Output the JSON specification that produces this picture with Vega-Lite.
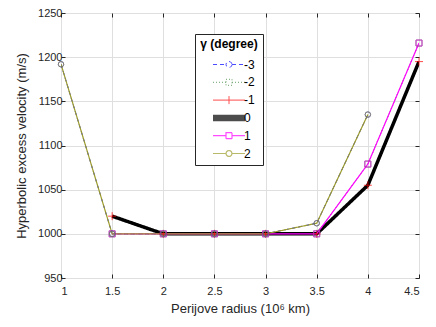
{
  "$schema": "https://vega.github.io/schema/vega-lite/v6.json",
  "width": 358,
  "height": 265,
  "autosize": {"type": "none"},
  "padding": {"left": 61, "top": 13, "right": 17, "bottom": 49},
  "background": "white",
  "config": {
    "font": "Liberation Sans",
    "view": {"stroke": "#262626", "strokeWidth": 1},
    "axis": {
      "labelFont": "Liberation Sans",
      "titleFont": "Liberation Sans",
      "labelColor": "#262626",
      "titleColor": "#262626",
      "labelFontSize": 11,
      "titleFontSize": 13,
      "titleFontWeight": "normal",
      "gridColor": "#dfdfdf",
      "gridWidth": 1,
      "domain": false,
      "tickColor": "#262626",
      "tickSize": -4
    }
  },
  "data": {
    "values": [
      {"r": 1, "v": 1192, "gamma": -3}, {"r": 1.5, "v": 1000, "gamma": -3}, {"r": 2, "v": 1000, "gamma": -3}, {"r": 2.5, "v": 1000, "gamma": -3}, {"r": 3, "v": 1000, "gamma": -3}, {"r": 3.5, "v": 1012, "gamma": -3}, {"r": 4, "v": 1135, "gamma": -3},
      {"r": 1.5, "v": 1000, "gamma": -2}, {"r": 2, "v": 1000, "gamma": -2}, {"r": 2.5, "v": 1000, "gamma": -2}, {"r": 3, "v": 1000, "gamma": -2}, {"r": 3.5, "v": 1000, "gamma": -2}, {"r": 4, "v": 1079, "gamma": -2}, {"r": 4.5, "v": 1216, "gamma": -2},
      {"r": 1.5, "v": 1020, "gamma": -1}, {"r": 2, "v": 1000, "gamma": -1}, {"r": 2.5, "v": 1000, "gamma": -1}, {"r": 3, "v": 1000, "gamma": -1}, {"r": 3.5, "v": 1000, "gamma": -1}, {"r": 4, "v": 1055, "gamma": -1}, {"r": 4.5, "v": 1195, "gamma": -1},
      {"r": 1.5, "v": 1020, "gamma": 0}, {"r": 2, "v": 1000, "gamma": 0}, {"r": 2.5, "v": 1000, "gamma": 0}, {"r": 3, "v": 1000, "gamma": 0}, {"r": 3.5, "v": 1000, "gamma": 0}, {"r": 4, "v": 1055, "gamma": 0}, {"r": 4.5, "v": 1195, "gamma": 0},
      {"r": 1.5, "v": 1000, "gamma": 1}, {"r": 2, "v": 1000, "gamma": 1}, {"r": 2.5, "v": 1000, "gamma": 1}, {"r": 3, "v": 1000, "gamma": 1}, {"r": 3.5, "v": 1000, "gamma": 1}, {"r": 4, "v": 1079, "gamma": 1}, {"r": 4.5, "v": 1216, "gamma": 1},
      {"r": 1, "v": 1192, "gamma": 2}, {"r": 1.5, "v": 1000, "gamma": 2}, {"r": 2, "v": 1000, "gamma": 2}, {"r": 2.5, "v": 1000, "gamma": 2}, {"r": 3, "v": 1000, "gamma": 2}, {"r": 3.5, "v": 1012, "gamma": 2}, {"r": 4, "v": 1135, "gamma": 2}
    ]
  },
  "resolve": {"axis": {"x": "independent", "y": "independent"}},
  "layer": [
    {
      "encoding": {
        "x": {
          "field": "r", "type": "quantitative",
          "scale": {"domain": [1, 4.5], "nice": false, "zero": false},
          "axis": {"values": [1, 1.5, 2, 2.5, 3, 3.5, 4, 4.5], "format": ".1~f", "title": "Perijove radius (10⁶ km)", "labelPadding": 11, "titlePadding": 6}
        },
        "y": {
          "field": "v", "type": "quantitative",
          "scale": {"domain": [950, 1250], "nice": false, "zero": false},
          "axis": {"values": [950, 1000, 1050, 1100, 1150, 1200, 1250], "format": "d", "title": "Hyperbolic excess velocity (m/s)", "labelPadding": 3, "titlePadding": 9}
        }
      },
      "layer": [
        {
          "mark": {"type": "line", "clip": true},
          "encoding": {
            "color": {"field": "gamma", "type": "ordinal", "scale": {"domain": [-3, -2, -1, 0, 1, 2], "range": ["#0000ff", "#2a7a2a", "#ff0000", "#000000", "#ff00ff", "#9c9c2c"]}, "legend": {"title": "γ (degree)"}},
            "strokeDash": {"field": "gamma", "type": "ordinal", "scale": {"domain": [-3, -2, -1, 0, 1, 2], "range": [[4, 3], [1, 2], [1, 0], [1, 0], [1, 0], [1, 0]]}, "legend": {"title": "γ (degree)"}},
            "strokeWidth": {"field": "gamma", "type": "ordinal", "scale": {"type": "ordinal", "domain": [-3, -2, -1, 0, 1, 2], "range": [1, 1, 1, 3.5, 1.2, 1.2]}, "legend": null}
          }
        },
        {
          "transform": [{"filter": "datum.gamma == -1"}],
          "mark": {"type": "point", "filled": false, "shape": "M-1,0H1M0,-1V1", "size": 64, "strokeWidth": 1},
          "encoding": {
            "color": {"field": "gamma", "type": "ordinal", "legend": {"title": "γ (degree)"}}
          }
        },
        {
          "transform": [{"filter": "datum.gamma == -2 || datum.gamma == 1"}],
          "mark": {"type": "point", "filled": false, "shape": "square", "size": 36, "strokeWidth": 1},
          "encoding": {
            "color": {"field": "gamma", "type": "ordinal", "legend": {"title": "γ (degree)"}}
          }
        },
        {
          "transform": [{"filter": "datum.gamma == -3 || datum.gamma == 2"}],
          "mark": {"type": "point", "filled": false, "shape": "circle", "size": 30, "strokeWidth": 1},
          "encoding": {
            "color": {"field": "gamma", "type": "ordinal", "legend": {"title": "γ (degree)"}}
          }
        },
        {
          "transform": [{"filter": "false"}],
          "mark": {"type": "point", "filled": false, "strokeWidth": 1},
          "encoding": {
            "color": {
              "field": "gamma", "type": "ordinal",
              "legend": {
                "title": "γ (degree)",
                "orient": "none", "legendX": 134, "legendY": 21,
                "titleFontWeight": "bold", "titleFontSize": 12, "titleColor": "#000000", "titleAnchor": "middle", "titlePadding": 7,
                "labelFontSize": 12, "labelColor": "#000000", "labelOffset": 9,
                "symbolSize": 4, "symbolOffset": 19, "clipHeight": 13, "rowPadding": 4.8,
                "padding": 5, "strokeColor": "#262626", "fillColor": "#ffffff", "symbolFillColor": "transparent"
              }
            },
            "shape": {
              "field": "gamma", "type": "ordinal",
              "scale": {"domain": [-3, -2, -1, 0, 1, 2], "range": [
                "M-16,0H-3M3,0H16M3,0L2.6,1.5L1.5,2.6L0,3L-1.5,2.6L-2.6,1.5L-3,0L-2.6,-1.5L-1.5,-2.6L0,-3L1.5,-2.6L2.6,-1.5Z",
                "M-16,0H-3M3,0H16M-3,-3H3V3H-3Z",
                "M-16,0H16M0,-4V4",
                "M-16,-1.5H16M-16,-0.75H16M-16,0H16M-16,0.75H16M-16,1.5H16",
                "M-16,0H-3M3,0H16M-3,-3H3V3H-3Z",
                "M-16,0H-3M3,0H16M3,0L2.6,1.5L1.5,2.6L0,3L-1.5,2.6L-2.6,1.5L-3,0L-2.6,-1.5L-1.5,-2.6L0,-3L1.5,-2.6L2.6,-1.5Z"
              ]},
              "legend": {"title": "γ (degree)"}
            },
            "strokeDash": {"field": "gamma", "type": "ordinal", "legend": {"title": "γ (degree)"}}
          }
        }
      ]
    },
    {
      "transform": [{"filter": "false"}],
      "mark": {"type": "point", "opacity": 0},
      "encoding": {
        "x": {
          "field": "r", "type": "quantitative",
          "scale": {"domain": [1, 4.5], "nice": false, "zero": false},
          "axis": {"orient": "top", "values": [1, 1.5, 2, 2.5, 3, 3.5, 4, 4.5], "labels": false, "grid": false, "title": null}
        },
        "y": {
          "field": "v", "type": "quantitative",
          "scale": {"domain": [950, 1250], "nice": false, "zero": false},
          "axis": {"orient": "right", "values": [950, 1000, 1050, 1100, 1150, 1200, 1250], "labels": false, "grid": false, "title": null}
        }
      }
    }
  ]
}
